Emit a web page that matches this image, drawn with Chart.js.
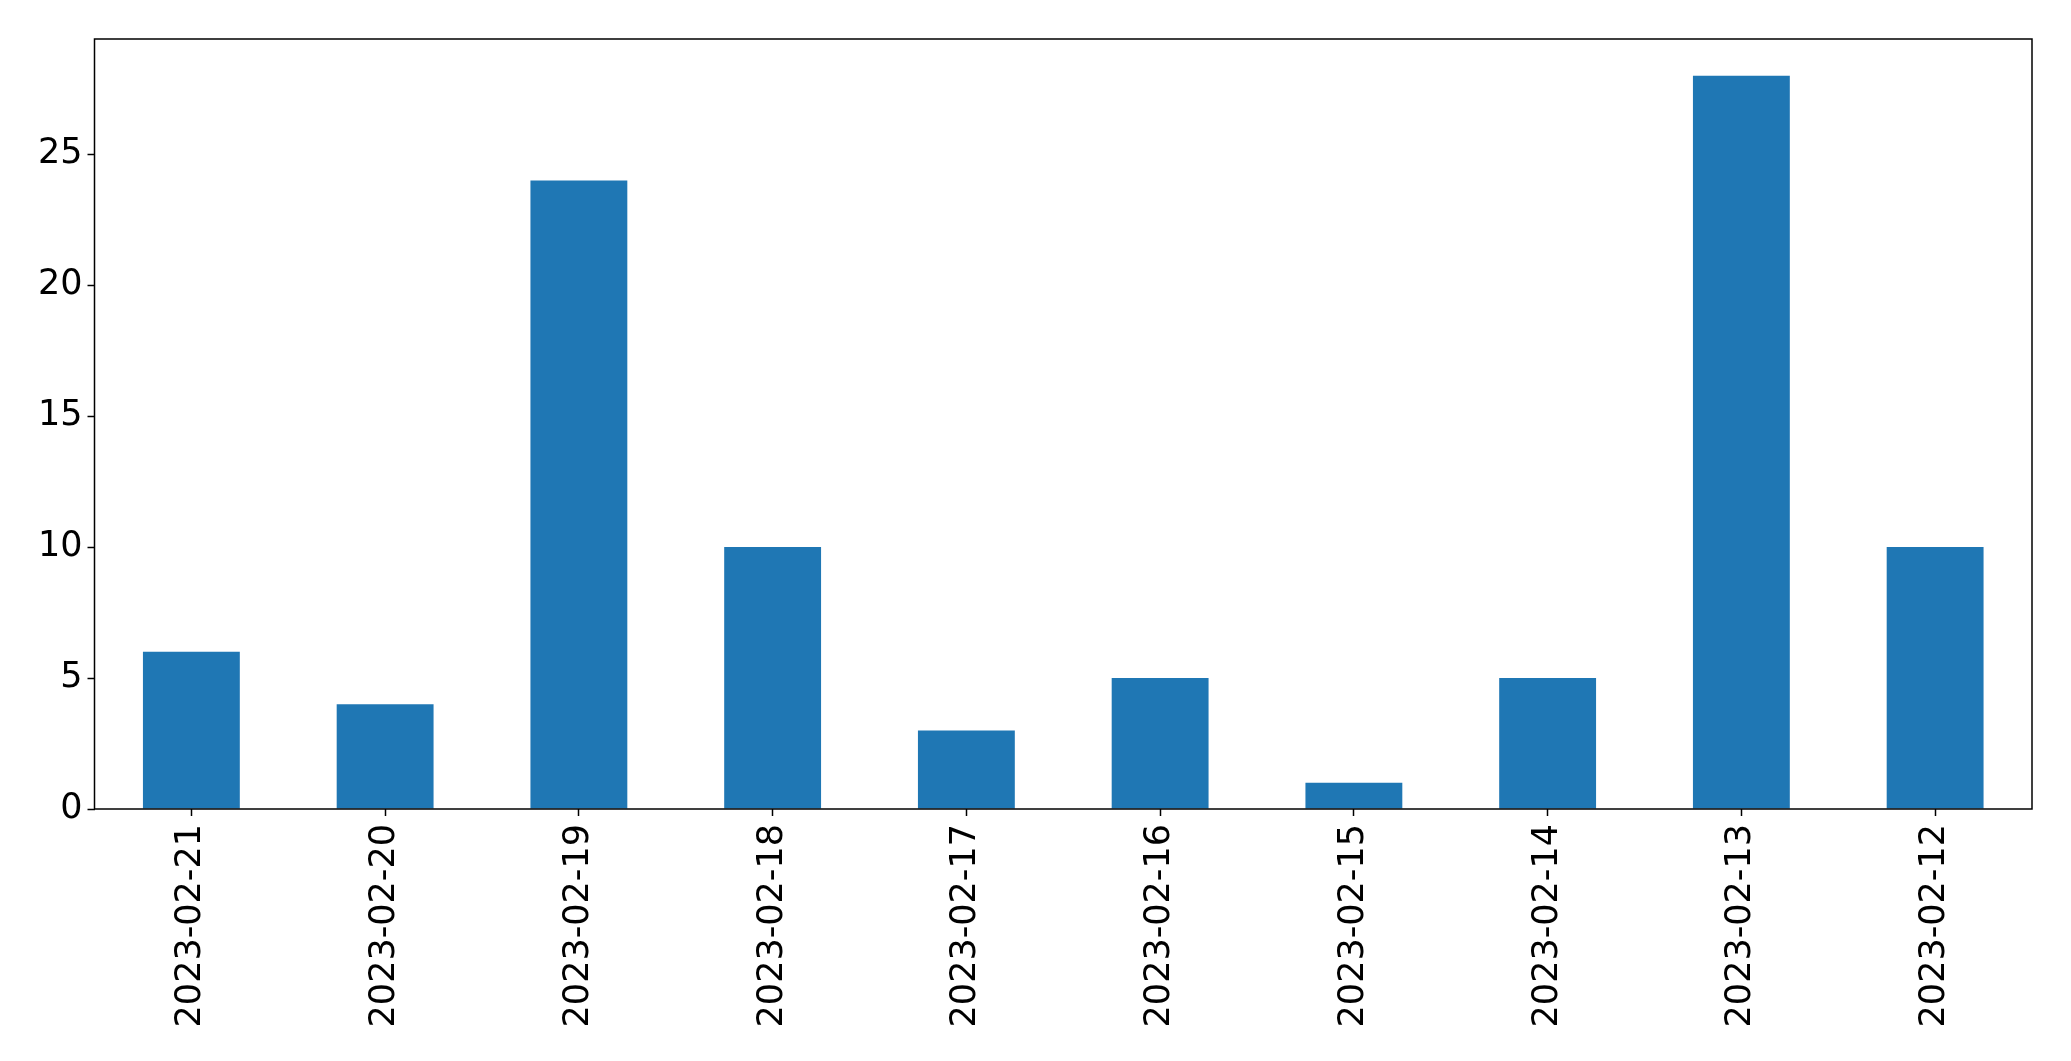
<!DOCTYPE html>
<html>
<head>
<meta charset="utf-8">
<script src="https://cdn.jsdelivr.net/npm/chart.js@4/dist/chart.umd.min.js"></script>
<style>
  html, body { margin: 0; padding: 0; background: #fff; }
  canvas { display: block; }
</style>
</head>
<body>
<canvas id="myChart" width="2071" height="1061"></canvas>
<script>
// data
const dates = ['2023-02-21', '2023-02-20', '2023-02-19', '2023-02-18', '2023-02-17',
               '2023-02-16', '2023-02-15', '2023-02-14', '2023-02-13', '2023-02-12']
const counts = [6, 4, 24, 10, 3, 5, 1, 5, 28, 10]
const yTicks = [0, 5, 10, 15, 20, 25]

const tickFont = { family: 'DejaVu Sans', size: 35 }

// box round the plot area, like matplotlib's spines
const frame = {
  id: 'frame',
  afterDatasetsDraw(chart) {
    const { ctx, chartArea: a } = chart
    ctx.save()
    ctx.strokeStyle = '#000'
    ctx.lineWidth = 1.5
    ctx.strokeRect(a.left, a.top, a.right - a.left, a.bottom - a.top)
    ctx.restore()
  }
}

const ctx = document.getElementById('myChart').getContext('2d')
const chart = new Chart(ctx, {
  type: 'bar',
  data: {
    labels: dates,
    datasets: [{
      data: counts,
      backgroundColor: '#1f77b4',
      barPercentage: 0.5,
      categoryPercentage: 1.0
    }]
  },
  options: {
    responsive: false,
    animation: false,
    layout: { padding: { top: 39, right: 39, left: 0, bottom: 0 } },
    plugins: { legend: { display: false }, tooltip: { enabled: false } },
    scales: {
      x: {
        offset: true,
        grid: { display: true, drawOnChartArea: false, offset: false, tickLength: 7, tickColor: '#000', tickWidth: 1.5 },
        border: { display: false },
        ticks: { color: '#000', font: tickFont, minRotation: 90, maxRotation: 90, padding: 8, autoSkip: false },
        afterFit: s => { s.height = 252 }
      },
      y: {
        min: 0,
        max: 29.4,
        afterBuildTicks: s => { s.ticks = yTicks.map(v => ({ value: v })) },
        grid: { display: true, drawOnChartArea: false, tickLength: 7, tickColor: '#000', tickWidth: 1.5 },
        border: { display: false },
        ticks: { color: '#000', font: tickFont, padding: 5 },
        afterFit: s => { s.width = 94.5 }
      }
    }
  },
  plugins: [frame]
})
</script>
</body>
</html>
